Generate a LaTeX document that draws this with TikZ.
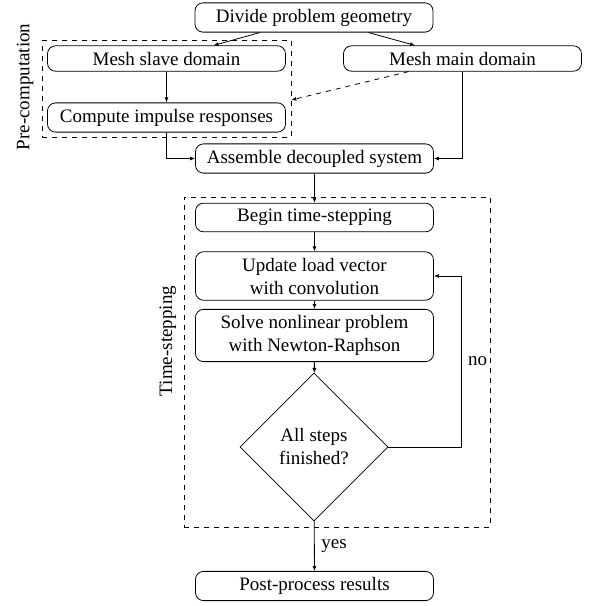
\documentclass[tikz,border=0pt]{standalone}
\usepackage{fontspec}
\setmainfont{Liberation Serif}
\usetikzlibrary{shapes.geometric,fit,arrows.meta}

\begin{document}
\begin{tikzpicture}[x=0.5pt, y=-0.5pt, font=\fontsize{9.5}{11.5}\selectfont, >={Latex[length=2.5pt,width=2pt]},
  block/.style = {shape=rectangle, rounded corners=4pt, draw, align=center, minimum width=119pt, inner ysep=3pt},
  decision/.style = {shape=diamond, draw, align=center, aspect=1, minimum size=74pt, inner sep=0pt},
  group/.style = {draw, dash pattern=on 2.5pt off 2.5pt, inner sep=2.5pt}]
    \useasboundingbox (0,0) rectangle (592,606);

    \node[block] (divide) at (314,17.5) {Divide problem geometry};
    \node[block] (slave) at (166.5,58.5) {Mesh slave domain};
    \node[block] (main) at (462.5,58.5) {Mesh main domain};
    \node[block] (impulse) at (166.5,117.5) {Compute impulse responses};
    \node[block] (assemble) at (314.5,158.5) {Assemble decoupled system};
    \node[block] (begin) at (314.5,217.5) {Begin time-stepping};
    \node[block] (update) at (314.5,276) {Update load vector\\with convolution};
    \node[block] (solve) at (314.5,335.5) {Solve nonlinear problem\\with Newton-Raphson};
    \node[decision] (check) at (314,447) {All steps\\finished?};
    \node[block] (post) at (314.5,586) {Post-process results};

    % dashed groups
    \node[group, fit=(slave)(impulse)] (precomp) {};
    \node[rotate=90] (prelabel) at (25,87) {Pre-computation};
    \coordinate (tsnw) at (184,197);
    \coordinate (tsse) at (490,527);
    \node[group, fit=(tsnw)(tsse), inner sep=0pt] (timestep) {};
    \node[rotate=90] (tslabel) at (168,341) {Time-stepping};

    \draw[->] (divide) -- (slave);
    \draw[->] (divide) -- (main);
    \draw[->] (slave) -- (impulse);
    \coordinate (pcin) at (precomp.east |- 0,100);
    \draw[->, dash pattern=on 2.5pt off 2.5pt] (main) -- (pcin);
    \draw[->] (impulse) |- (assemble);
    \draw[->] (main) |- (assemble);
    \draw[->] (assemble) -- (begin);
    \draw[->] (begin) -- (update);
    \draw[->] (update) -- (solve);
    \draw[->] (solve) -- (check);
    \draw[->] (check) -- node[right] {yes} (post);
    \coordinate (loop) at (461,447);
    \draw[->] (check) -- (loop) -- node[right] {no} (loop |- update) -- (update);
\end{tikzpicture}
\end{document}
